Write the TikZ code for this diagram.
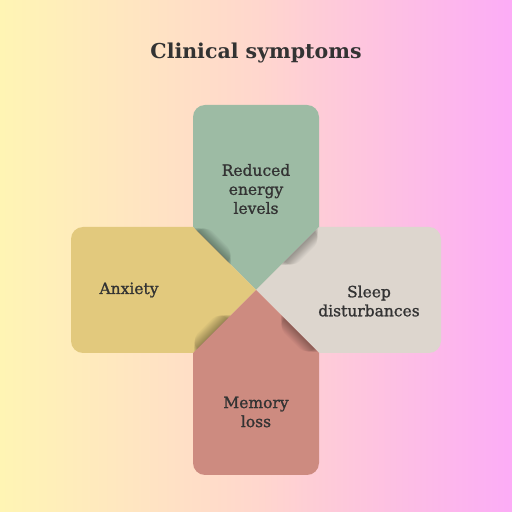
\documentclass[tikz,border=0pt]{standalone}
\usepackage{fontspec}
\setmainfont{DejaVu Serif}
\newfontface\lblfont{DejaVu Serif}[FakeBold=1.2]
\usetikzlibrary{calc}
\definecolor{bgL}{RGB}{255,245,180}
\definecolor{bgM}{RGB}{255,215,205}
\definecolor{bgR}{RGB}{252,172,246}
\definecolor{cGreen}{RGB}{157,187,164}
\definecolor{cYellow}{RGB}{226,201,125}
\definecolor{cBeige}{RGB}{221,214,206}
\definecolor{cRed}{RGB}{205,139,128}
\definecolor{txt}{RGB}{51,51,51}
\tikzset{
  lbl/.style={text=txt, align=center, font=\lblfont\fontsize{15.5}{19}\selectfont},
  ttl/.style={text=txt, font=\bfseries\fontsize{20.5}{24}\selectfont},
}
\newcommand{\mkshadow}[2]{%
  \foreach \i in {1,...,14}{
    \draw[line width=1.5*\i pt, black, opacity=0.024, line cap=round]
      ($(#1)!{0.31-(0.30-0.013*\i)}!(#2)$) -- ($(#1)!{0.31+(0.30-0.013*\i)}!(#2)$);
  }%
}
\begin{document}
\begin{tikzpicture}[x=1pt,y=1pt]
\useasboundingbox (0,0) rectangle (512,512);
\shade[left color=bgL, right color=bgR, middle color=bgM] (0,0) rectangle (512,512);
\coordinate (C) at (256,222);
\coordinate (GL) at (193,285);
\coordinate (GR) at (319,285);
\coordinate (RL) at (193,159);
\coordinate (RR) at (319,159);
% shapes
\fill[cGreen] (GL) -- (193,395) arc(180:90:12) -- (307,407) arc(90:0:12) -- (GR) -- (C) -- cycle;
\fill[cYellow] (GL) -- (83,285) arc(90:180:12) -- (71,171) arc(180:270:12) -- (RL) -- (C) -- cycle;
\fill[cBeige] (GR) -- (429,285) arc(90:0:12) -- (441,171) arc(0:-90:12) -- (RR) -- (C) -- cycle;
\fill[cRed] (RL) -- (193,49) arc(180:270:12) -- (307,37) arc(270:360:12) -- (RR) -- (C) -- cycle;
% shadows
\begin{scope}
\clip (GL) -- (193,407) -- (319,407) -- (GR) -- (C) -- cycle;
\mkshadow{GL}{C}
\end{scope}
\begin{scope}
\clip (GR) -- (441,285) -- (441,159) -- (RR) -- (C) -- cycle;
\mkshadow{GR}{C}
\end{scope}
\begin{scope}
\clip (RL) -- (193,37) -- (319,37) -- (RR) -- (C) -- cycle;
\mkshadow{RR}{C}
\end{scope}
\begin{scope}
\clip (GL) -- (71,285) -- (71,159) -- (RL) -- (C) -- cycle;
\mkshadow{RL}{C}
\end{scope}
% texts
\node[ttl] (title) at (256,459) {Clinical symptoms};
\node[lbl] (energy) at (256,323) {Reduced\\energy\\levels};
\node[lbl] (anx) at (129,222) {Anxiety};
\node[lbl] (sleep) at (369,211) {Sleep\\disturbances};
\node[lbl] (mem) at (256,100) {Memory\\loss};
\end{tikzpicture}
\end{document}
